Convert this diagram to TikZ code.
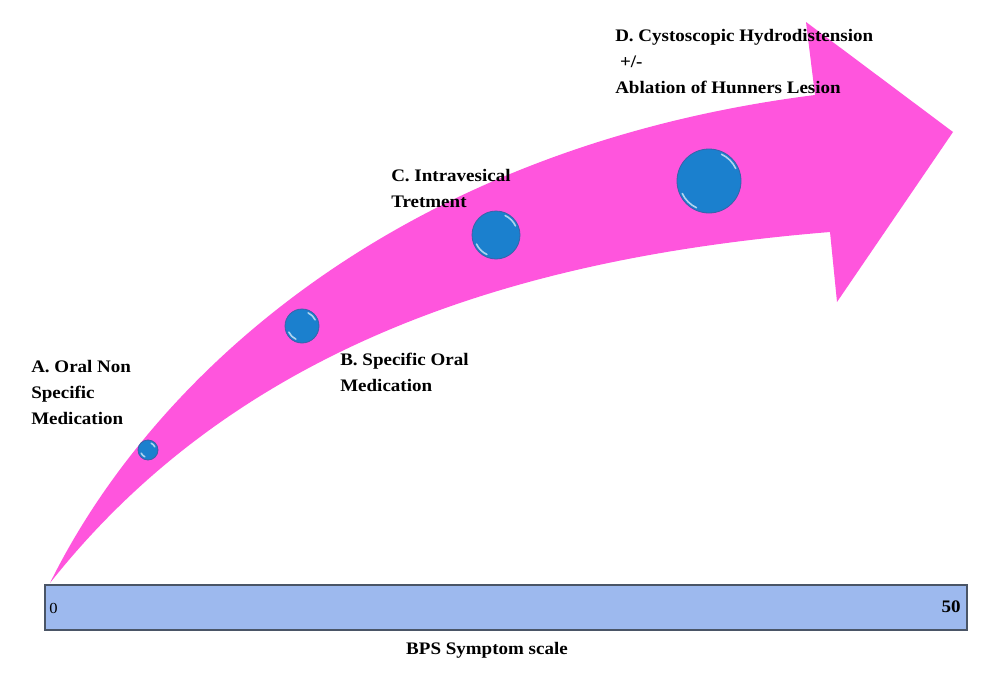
\documentclass[tikz,border=0pt]{standalone}
\usepackage{fontspec}
\setmainfont{Liberation Serif}[FakeStretch=1.08]
\definecolor{arrowpink}{HTML}{FF55DD}
\definecolor{dotblue}{HTML}{1B80CE}
\definecolor{dotrim}{HTML}{3A62A8}
\definecolor{barblue}{HTML}{9DB9EE}
\definecolor{bardraw}{HTML}{4A5566}
\tikzstyle{stage}=[font=\fontsize{13.2}{19.5}\bfseries\selectfont, align=left, anchor=north west, inner sep=0pt]
\tikzstyle{dot}=[circle, fill=dotblue, draw=dotrim, line width=0.6pt, inner sep=0pt]
\tikzstyle{shine}=[line width=1.2pt, color=white!65!dotblue, line cap=round]

\begin{document}
\begin{tikzpicture}[x=0.75pt, y=-0.75pt]
\useasboundingbox (0,0) rectangle (1000,675);

% the curved arrow
\fill[arrowpink] (50,583) .. controls (150,380) and (395,148) .. (815,95)
  -- (806,22) -- (953,132) -- (837,302) -- (830,232)
  .. controls (550,255) and (250,330) .. (50,583) -- cycle;

% the stages on the arrow
\foreach \n/\x/\y/\r in {a/148/450/10, b/302/326/17, c/496/235/24, d/709/181/32}{
\node[dot, minimum size=2*\r*0.75pt] (\n) at (\x,\y) {};
\draw[shine] (\n.center) ++(-25:{\r-2.5}) arc (-25:-65:{\r-2.5});
\draw[shine] (\n.center) ++(155:{\r-2.5}) arc (155:115:{\r-2.5});
}

\node[stage] (la) at (31,360) {A. Oral Non\\Specific\\Medication};
\node[stage] (lb) at (340,353) {B. Specific Oral\\Medication};
\node[stage] (lc) at (391,169) {C. Intravesical\\Tretment};
\node[stage] (ld) at (615,29) {D. Cystoscopic Hydrodistension\\\ +/-\\Ablation of Hunners Lesion};

% the scale
\node[draw=bardraw, fill=barblue, line width=0.8pt, minimum width=922*0.75pt, minimum height=45*0.75pt, inner sep=0pt] (bar) at (506,607.5) {};
\node[font=\fontsize{11.5}{13}\selectfont, anchor=west, inner sep=0pt] (zero) at (49,608) {0};
\node[font=\fontsize{13.2}{15}\bfseries\selectfont, anchor=east, inner sep=0pt] (fifty) at (961,607) {50};
\node[font=\fontsize{13.2}{15}\bfseries\selectfont, anchor=north, inner sep=0pt] (scale) at (487,642) {BPS Symptom scale};
\end{tikzpicture}
\end{document}
